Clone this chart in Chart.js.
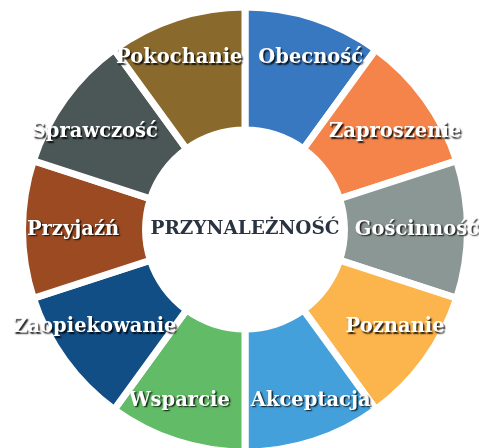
<!DOCTYPE html>
<html>
<head>
<meta charset="utf-8">
<script src="https://cdn.jsdelivr.net/npm/chart.js@4"></script>
<style>
  html, body { margin: 0; padding: 0; background: #fff; overflow: hidden; }
  #wrap { width: 479px; height: 460px; }
</style>
</head>
<body>
<div id="wrap"><canvas id="myChart"></canvas></div>
<script>
const labels = ['Obecność', 'Zaproszenie', 'Gościnność', 'Poznanie', 'Akceptacja',
  'Wsparcie', 'Zaopiekowanie', 'Przyjaźń', 'Sprawczość', 'Pokochanie'];
const values = [1, 1, 1, 1, 1, 1, 1, 1, 1, 1];
const colors = ['#3878c0', '#f5844b', '#8b9794', '#fcb54c', '#44a0da',
  '#62bb67', '#124e86', '#9b4a22', '#4a5756', '#8a6a2c'];
const centerTitle = 'PRZYNALEŻNOŚĆ';

// labels sit a bit further out near top/bottom and lean towards the horizontal
const labelPlugin = {
  id: 'segmentLabels',
  afterDatasetsDraw(chart) {
    const ctx = chart.ctx;
    const meta = chart.getDatasetMeta(0);
    ctx.save();
    ctx.textAlign = 'center';
    ctx.textBaseline = 'middle';
    ctx.font = 'bold 19.5px "DejaVu Serif"';
    meta.data.forEach((arc, i) => {
      const p = arc.getProps(['x', 'y', 'startAngle', 'endAngle', 'innerRadius', 'outerRadius']);
      let a = (p.startAngle + p.endAngle) / 2;
      const s = Math.sin(a), c = Math.cos(a);
      if (Math.abs(s) > 0.1) a -= (3 * Math.PI / 180) * Math.sign(s) * Math.sign(c);
      const r = p.innerRadius + (p.outerRadius - p.innerRadius) * (0.589 + 0.098 * Math.abs(s));
      ctx.shadowColor = 'rgba(0,0,0,0.85)';
      ctx.shadowOffsetX = 1.5;
      ctx.shadowOffsetY = 1.5;
      ctx.shadowBlur = 1.5;
      ctx.fillStyle = '#ffffff';
      ctx.fillText(labels[i], p.x + Math.cos(a) * r, p.y + Math.sin(a) * r);
    });
    const c = meta.data[0];
    ctx.shadowColor = 'transparent';
    ctx.fillStyle = '#2a3340';
    ctx.font = 'bold 18.5px "DejaVu Serif"';
    ctx.fillText(centerTitle, c.x, c.y);
    ctx.restore();
  }
};

const ctx = document.getElementById('myChart');

new Chart(ctx, {
  type: 'doughnut',
  data: {
    labels: labels,
    datasets: [{
      data: values,
      backgroundColor: colors,
      borderColor: '#ffffff',
      borderWidth: 7,
      borderJoinStyle: 'miter'
    }]
  },
  options: {
    responsive: true,
    maintainAspectRatio: false,
    animation: false,
    cutout: '44.7%',
    layout: { padding: { top: 3.5, bottom: 4.5, left: 11, right: 0 } },
    plugins: {
      legend: { display: false },
      tooltip: { enabled: false }
    }
  },
  plugins: [labelPlugin]
});
</script>
</body>
</html>
